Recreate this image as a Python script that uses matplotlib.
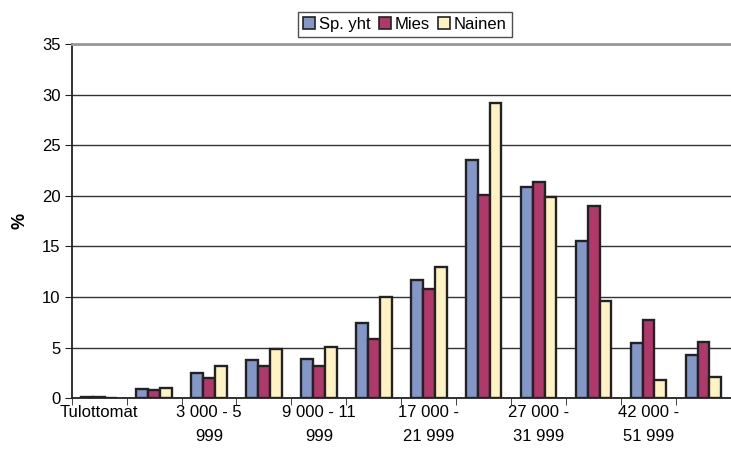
import matplotlib
matplotlib.use("Agg")
import matplotlib.pyplot as plt
import numpy as np
from matplotlib.patches import Patch

plt.rcParams['font.family'] = ['Liberation Sans', 'DejaVu Sans']

categories = ["Tulottomat", "1 - 2 999", "3 000 - 5\n999", "6 000 - 8 999",
              "9 000 - 11\n999", "12 000 - 16 999", "17 000 -\n21 999",
              "22 000 - 26 999", "27 000 -\n31 999", "32 000 - 41 999",
              "42 000 -\n51 999", "52 000 -"]
series_names = ["Sp. yht", "Mies", "Nainen"]
sp_yht = [0.1, 0.9, 2.5, 3.8, 3.9, 7.4, 11.7, 23.5, 20.9, 15.5, 5.5, 4.3]
mies   = [0.1, 0.8, 2.0, 3.2, 3.2, 5.9, 10.8, 20.1, 21.4, 19.0, 7.7, 5.6]
nainen = [0.0, 1.0, 3.2, 4.9, 5.1, 10.0, 13.0, 29.2, 19.9, 9.6, 1.8, 2.1]
colors = ["#8497C9", "#B0386B", "#FFF3C3"]

fig = plt.figure(figsize=(7.31, 4.51), dpi=100)
ax = fig.add_axes([0.098, 0.117, 0.902, 0.7854])

x = np.arange(len(categories))
w = 0.215
for k, vals in enumerate([sp_yht, mies, nainen]):
    ax.bar(x + (k - 1) * w, vals, width=w, color=colors[k],
           edgecolor="#222222", linewidth=1.7, zorder=3)

ax.set_ylim(0, 35)
ax.set_xlim(-0.5, 11.21)
ax.set_yticks(np.arange(0, 36, 5))
ax.yaxis.grid(True, color="#333333", linewidth=1.0, zorder=0)
ax.set_axisbelow(True)

ax.set_xticks(x)
ax.set_xticklabels([c if i % 2 == 0 else "" for i, c in enumerate(categories)],
                   fontsize=12, linespacing=1.75)
ax.tick_params(axis='x', which='major', length=0, pad=5)
ax.set_xticks(np.arange(-0.5, 12, 1), minor=True)
ax.tick_params(axis='x', which='minor', length=5, direction='out', color="#222222")
ax.tick_params(axis='y', length=5, direction='out', color="#222222", labelsize=12, pad=3)

ax.spines['right'].set_visible(False)
ax.spines['top'].set_color("#999999")
ax.spines['top'].set_linewidth(2)
ax.spines['left'].set_color("#222222")
ax.spines['left'].set_linewidth(1.3)
ax.spines['bottom'].set_color("#222222")
ax.spines['bottom'].set_linewidth(1.3)

ax.set_ylabel("%", fontsize=13, fontweight='bold', labelpad=10)

handles = [Patch(facecolor=c, edgecolor="#222222", linewidth=1.2) for c in colors]
leg = fig.legend(handles, series_names, loc='center', bbox_to_anchor=(0.554, 0.946),
                 ncol=3, fontsize=12, frameon=True, fancybox=False,
                 edgecolor="#222222", handlelength=0.7, handleheight=0.7,
                 handletextpad=0.25, columnspacing=0.5, borderpad=0.3,
                 borderaxespad=0)
leg.get_frame().set_linewidth(1.0)

fig.savefig("out.png", dpi=100)
